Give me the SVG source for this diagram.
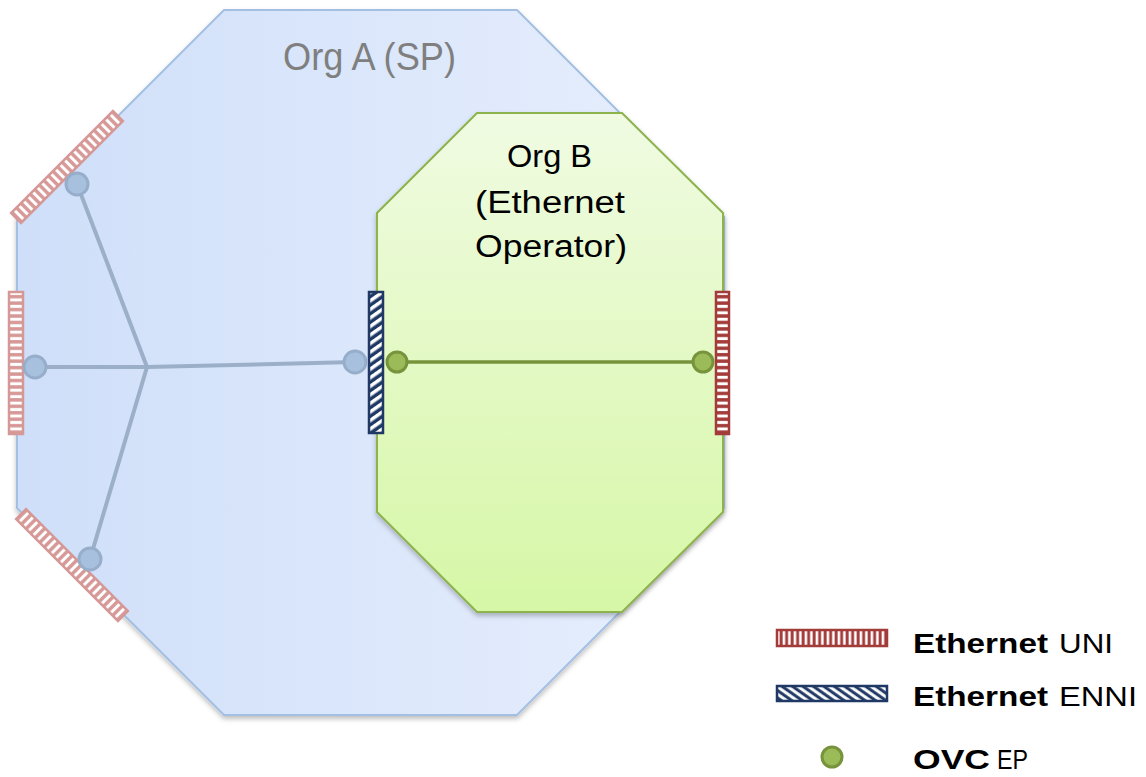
<svg xmlns="http://www.w3.org/2000/svg" width="1146" height="777" viewBox="0 0 1146 777">
<style>
.lbl{font-family:"Liberation Sans","Open Sans",sans-serif;}
.hub{stroke:#9bb0c8;stroke-width:4;fill:none;stroke-linecap:round;}
.ca{fill:#a7c0de;stroke:#97aecb;stroke-width:3;}
.cg{fill:#9bbb59;stroke:#77933c;stroke-width:3;}
.uniA{fill:url(#uniPatA);stroke:#d69896;stroke-width:2.5;}
.uniB{fill:url(#uniPatB);stroke:#a33b39;stroke-width:2.5;}
.enni{fill:url(#enniPatV);stroke:#1f3864;stroke-width:2.5;}
</style>
<defs>
<linearGradient id="gA" x1="0" y1="0" x2="1" y2="0">
<stop offset="0" stop-color="#cfdff9"/>
<stop offset="1" stop-color="#e8effd"/>
</linearGradient>
<linearGradient id="gB" x1="0" y1="0" x2="0" y2="1">
<stop offset="0" stop-color="#f0fbe2"/>
<stop offset="1" stop-color="#d6f7a6"/>
</linearGradient>
<filter id="sh" x="-10%" y="-10%" width="120%" height="120%">
<feDropShadow dx="0" dy="3" stdDeviation="2.5" flood-color="#000" flood-opacity="0.25"/>
</filter>
<pattern id="uniPatA" patternUnits="userSpaceOnUse" width="30" height="6.45">
<rect width="30" height="6.45" fill="#d69896"/>
<rect y="1.7" width="30" height="3" fill="#fff"/>
</pattern>
<pattern id="uniPatB" patternUnits="userSpaceOnUse" width="30" height="6.45">
<rect width="30" height="6.45" fill="#a33b39"/>
<rect y="1.7" width="30" height="3" fill="#fff"/>
</pattern>
<pattern id="uniPatH" patternUnits="userSpaceOnUse" width="5.5" height="30">
<rect width="5.5" height="30" fill="#a33b39"/>
<rect x="1.6" width="2.6" height="30" fill="#fff"/>
</pattern>
<pattern id="enniPatV" patternUnits="userSpaceOnUse" width="7" height="7" patternTransform="rotate(-35)">
<rect width="7" height="7" fill="#1f3864"/>
<rect y="2" width="7" height="3.5" fill="#fff"/>
</pattern>
<pattern id="enniPatH" patternUnits="userSpaceOnUse" width="6" height="6" patternTransform="rotate(-55)">
<rect width="6" height="6" fill="#1f3864"/>
<rect x="1.8" width="3" height="6" fill="#fff"/>
</pattern>
</defs>

<g id="orgA">
<polygon points="224,10 517,10 724,217 724,508 517,715 224,715 17,508 17,217" fill="url(#gA)" stroke="#a3c0e2" stroke-width="2" filter="url(#sh)"/>
<text class="lbl" x="283" y="70" font-size="38" fill="#7f7f7f" textLength="173" lengthAdjust="spacingAndGlyphs">Org A (SP)</text>
</g>

<g id="orgB">
<polygon points="477,113 622,113 723,213 723,512 622,612 477,612 377,512 377,213" fill="url(#gB)" stroke="#8db34e" stroke-width="2" filter="url(#sh)"/>
<text class="lbl" font-size="31" fill="#000">
<tspan x="507" y="167" textLength="85" lengthAdjust="spacingAndGlyphs">Org B</tspan>
<tspan x="475" y="213" textLength="150" lengthAdjust="spacingAndGlyphs">(Ethernet</tspan>
<tspan x="475" y="257" textLength="152" lengthAdjust="spacingAndGlyphs">Operator)</tspan>
</text>
</g>

<g id="connectors">
<line class="hub" x1="147" y1="367" x2="77" y2="184"/>
<line class="hub" x1="147" y1="367" x2="35" y2="367"/>
<line class="hub" x1="147" y1="367" x2="90" y2="559"/>
<line class="hub" x1="147" y1="367" x2="355" y2="362"/>
<line x1="397" y1="362" x2="703" y2="362" stroke="#77933c" stroke-width="3.5"/>
</g>

<g id="uni-a-top" transform="translate(67,167) rotate(45)">
<rect class="uniA" x="-7" y="-72" width="14" height="144"/>
</g>
<g id="uni-a-left">
<rect class="uniA" x="9" y="292" width="14" height="142"/>
</g>
<g id="uni-a-bottom" transform="translate(72,565) rotate(-45)">
<rect class="uniA" x="-7" y="-72" width="14" height="144"/>
</g>
<g id="enni">
<rect class="enni" x="369" y="292" width="14" height="141"/>
</g>
<g id="uni-b">
<rect class="uniB" x="716" y="292" width="13" height="142"/>
</g>

<g id="ep-a-top"><circle class="ca" cx="77" cy="184" r="11"/></g>
<g id="ep-a-left"><circle class="ca" cx="35" cy="367" r="11"/></g>
<g id="ep-a-bottom"><circle class="ca" cx="90" cy="559" r="11"/></g>
<g id="ep-a-enni"><circle class="ca" cx="355" cy="362" r="11"/></g>
<g id="ep-b-enni"><circle class="cg" cx="397" cy="362" r="10"/></g>
<g id="ep-b-uni"><circle class="cg" cx="703" cy="362" r="10"/></g>

<g id="legend">
<rect x="777" y="630" width="110" height="16" fill="url(#uniPatH)" stroke="#a33b39" stroke-width="2.5"/>
<rect x="777" y="686" width="110" height="15" fill="url(#enniPatH)" stroke="#1f3864" stroke-width="2.5"/>
<circle class="cg" cx="832" cy="757" r="10"/>
<text class="lbl" x="913" y="653" font-size="27" font-weight="bold" textLength="135" lengthAdjust="spacingAndGlyphs">Ethernet</text>
<text class="lbl" x="1059" y="653" font-size="27" textLength="54" lengthAdjust="spacingAndGlyphs">UNI</text>
<text class="lbl" x="913" y="706" font-size="27" font-weight="bold" textLength="135" lengthAdjust="spacingAndGlyphs">Ethernet</text>
<text class="lbl" x="1059" y="706" font-size="27" textLength="78" lengthAdjust="spacingAndGlyphs">ENNI</text>
<text class="lbl" x="913" y="769" font-size="27" font-weight="bold" textLength="77" lengthAdjust="spacingAndGlyphs">OVC</text>
<text class="lbl" x="997" y="769" font-size="27" textLength="31" lengthAdjust="spacingAndGlyphs">EP</text>
</g>
</svg>
